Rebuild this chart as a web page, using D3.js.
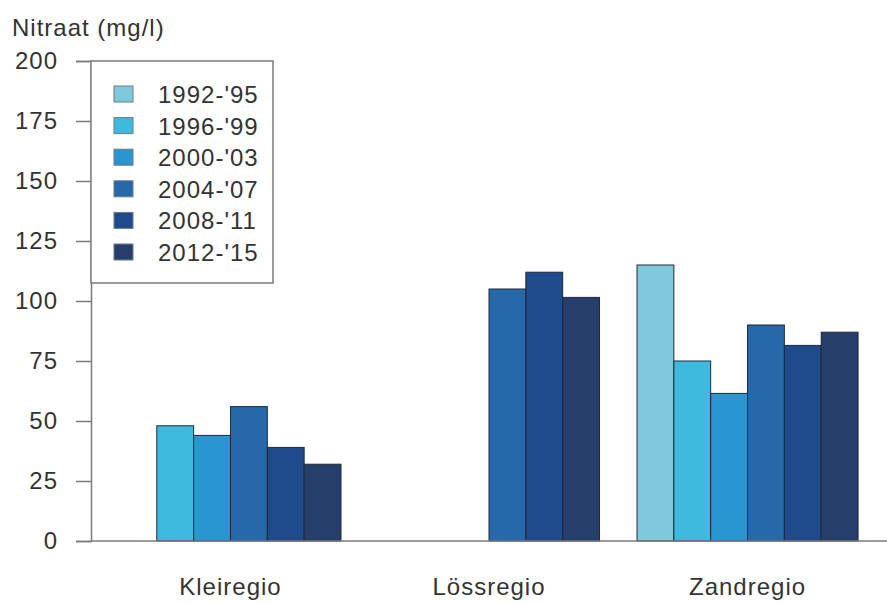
<!DOCTYPE html>
<html>
<head>
<meta charset="utf-8">
<script src="https://cdn.jsdelivr.net/npm/d3@7"></script>
<style>
  html, body { margin: 0; padding: 0; background: #ffffff; }
  svg { display: block; font-family: "Liberation Sans", Arial, Helvetica, sans-serif; }
  svg text { letter-spacing: 1px; }
</style>
</head>
<body>
<svg id="chart" width="887" height="603"></svg>
<script>
const regions = ["Kleiregio", "Lössregio", "Zandregio"];
const periods = ["1992-'95", "1996-'99", "2000-'03", "2004-'07", "2008-'11", "2012-'15"];
const kleiValues = [null, 48, 44, 56, 39, 32];
const lossValues = [null, null, null, 105, 112, 101.5];
const zandValues = [115, 75, 61.5, 90, 81.5, 87];
const yTicks = [0, 25, 50, 75, 100, 125, 150, 175, 200];
const colors = ["#80c9dc", "#3fbade", "#2995d1", "#2569ab", "#1f4a8c", "#253f6a"];
const yTitle = "Nitraat (mg/l)";

const seriesByRegion = [kleiValues, lossValues, zandValues];
const table = [];
regions.forEach((r, i) => periods.forEach((p, j) => {
  if (seriesByRegion[i][j] != null) table.push({ region: r, period: p, value: seriesByRegion[i][j] });
}));

const svg = d3.select("#chart");
const axisX = 91, plotRight = 887, y0 = 541, yTop = 61;
const fontSize = "24px";

const x0 = d3.scaleBand().domain(regions).range([axisX, plotRight])
  .paddingInner(0.145).paddingOuter(0.112);
const x1 = d3.scaleBand().domain(periods).range([0, x0.bandwidth()]).padding(0);
const y = d3.scaleLinear().domain([0, 200]).range([y0, yTop]);
const color = d3.scaleOrdinal().domain(periods).range(colors);

// bars
svg.append("g").selectAll("rect").data(table).join("rect")
  .attr("x", d => x0(d.region) + x1(d.period))
  .attr("y", d => y(d.value))
  .attr("width", x1.bandwidth())
  .attr("height", d => y(0) - y(d.value))
  .attr("fill", d => color(d.period))
  .attr("stroke", "#1e2a3a")
  .attr("stroke-width", 1);

// x baseline
svg.append("line")
  .attr("x1", axisX).attr("x2", plotRight)
  .attr("y1", y(0)).attr("y2", y(0))
  .attr("stroke", "#7a7a7a").attr("stroke-width", 1.5);

// y axis
const yAxis = d3.axisLeft(y).tickValues(yTicks).tickSize(15).tickPadding(18);
const gy = svg.append("g").attr("transform", `translate(${axisX},0)`).call(yAxis);
gy.select(".domain").attr("stroke", "#7a7a7a").attr("stroke-width", 1.5);
gy.selectAll(".tick line").attr("stroke", "#7a7a7a").attr("stroke-width", 1.5);
gy.selectAll(".tick text").attr("fill", "#333").style("font-size", fontSize)
  .style("font-family", "'Liberation Sans', Arial, sans-serif");

// x labels
svg.append("g").selectAll("text").data(regions).join("text")
  .attr("x", d => x0(d) + x0.bandwidth() / 2)
  .attr("y", 595)
  .attr("text-anchor", "middle")
  .attr("fill", "#333")
  .style("font-size", fontSize)
  .text(d => d);

// y title
svg.append("text").attr("x", 12).attr("y", 36)
  .attr("fill", "#333").style("font-size", fontSize).text(yTitle);

// legend
const lg = svg.append("g");
lg.append("rect").attr("x", axisX).attr("y", yTop).attr("width", 182).attr("height", 222)
  .attr("fill", "#ffffff").attr("stroke", "#7a7a7a").attr("stroke-width", 1.5);
const items = lg.selectAll("g.item").data(periods).join("g").attr("class", "item")
  .attr("transform", (d, i) => `translate(0, ${94 + i * 31.6})`);
items.append("rect").attr("x", 114).attr("y", -8).attr("width", 19).attr("height", 16)
  .attr("fill", d => color(d)).attr("stroke", "#6a7a8a").attr("stroke-width", 1);
items.append("text").attr("x", 158).attr("y", 9).attr("fill", "#333")
  .style("font-size", fontSize).text(d => d);
</script>
</body>
</html>
